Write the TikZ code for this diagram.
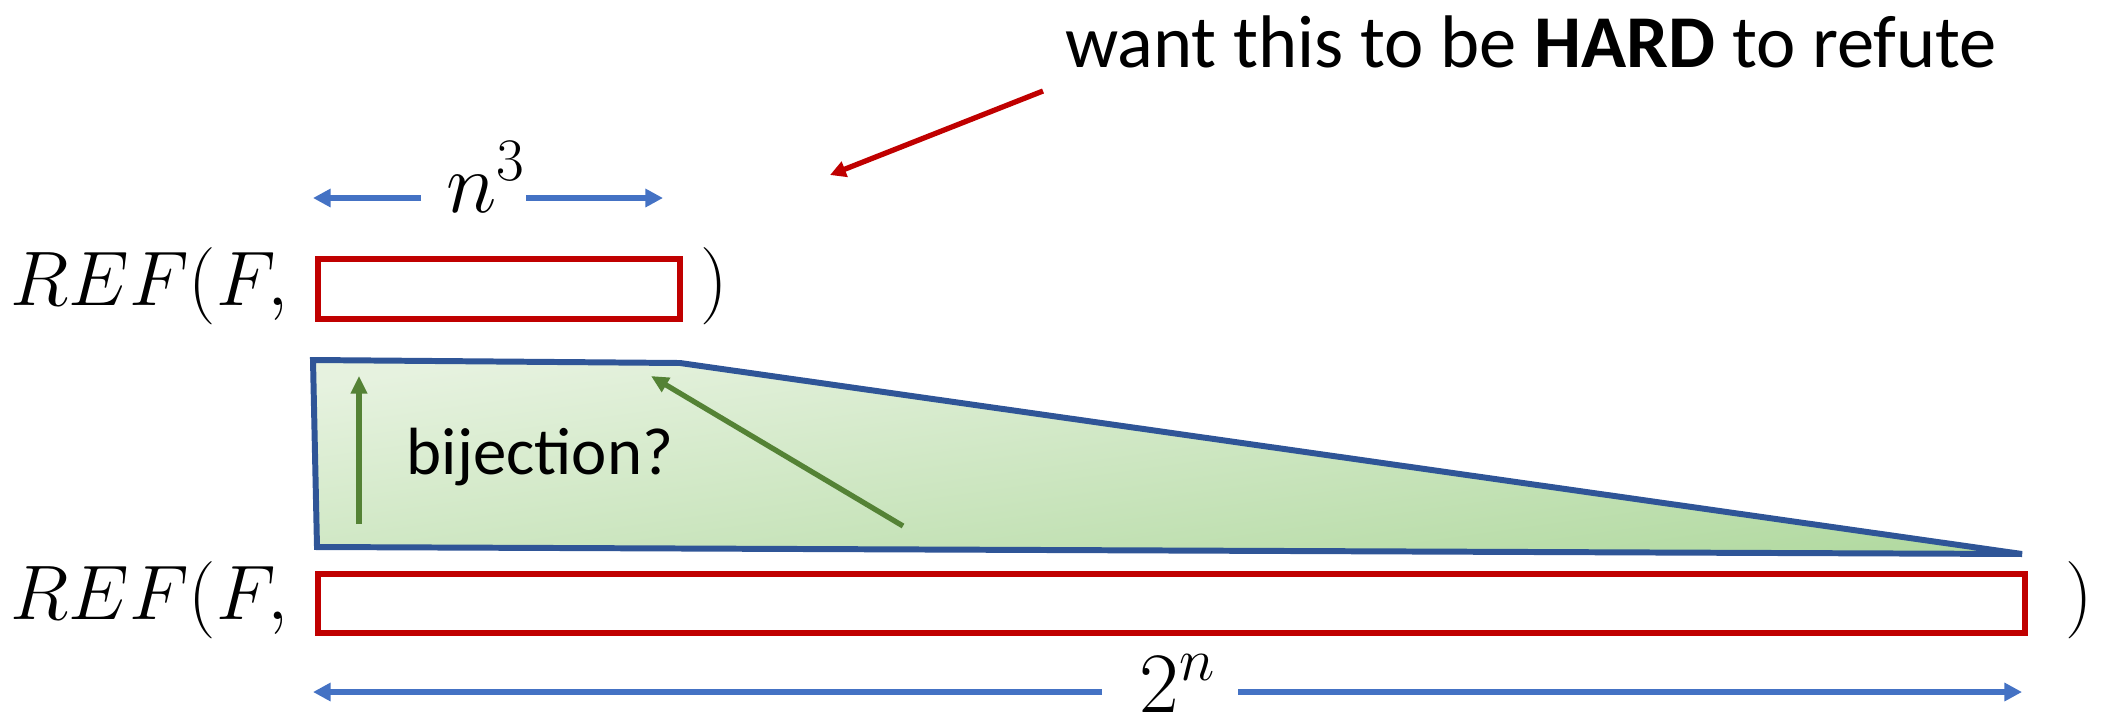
\RequirePackage{fix-cm}
\documentclass[tikz,border=0pt]{standalone}
\usepackage{fontspec}
\setmainfont{Carlito}
\usepackage{amsmath}
\usetikzlibrary{arrows.meta, positioning, calc}
\definecolor{boxred}{HTML}{C00000}
\definecolor{dimblue}{HTML}{4472C4}
\definecolor{edgeblue}{HTML}{2F5597}
\definecolor{mapgreen}{HTML}{548235}
\definecolor{fadelight}{HTML}{E6F2DF}
\definecolor{fadedark}{HTML}{B3DAA2}
\tikzset{
    refbox/.style={draw=boxred, line width=1.6pt, inner sep=0pt},
    dimarrow/.style={draw=dimblue, line width=1.5pt, -{Triangle[length=5pt,width=5pt]}},
    maparrow/.style={draw=mapgreen, line width=1.5pt, -{Triangle[length=5pt,width=4.5pt]}},
    notearrow/.style={draw=boxred, line width=1.5pt, -{Triangle[length=4.5pt,width=4.5pt]}},
    reflabel/.style={font=\fontsize{22}{26}\selectfont, inner sep=0pt},
    dimlabel/.style={font=\fontsize{24.5}{28}\selectfont, inner sep=0pt},
    notetext/.style={font=\fontsize{21.2}{25}\selectfont, inner sep=0pt},
}

\begin{document}
\begin{tikzpicture}[x=1cm, y=1cm]
\useasboundingbox (0,0) rectangle (21.08,-7.24);

% remark at the top
\node[notetext] (note) at (15.31,-0.42) {want this to be \textbf{HARD} to refute};
\coordinate (notefrom) at (10.43,-0.91);
\coordinate (noteto) at (8.30,-1.75);
\draw[notearrow] (notefrom) -- (noteto);

% short row: n^3
\node[reflabel, anchor=east] (reftop) at (2.89,-2.86) {$REF(F,$};
\node[refbox, anchor=north west, minimum width=3.62cm, minimum height=0.60cm] (smallbox) at (3.15,-2.56) {};
\node[reflabel] (closetop) at (7.14,-2.86) {$)$};

\node[dimlabel, anchor=base] (nthree) at (4.86,-2.12) {$n^3$};
\coordinate (nl) at (3.13,-1.98);
\coordinate (nlgap) at (4.21,-1.98);
\coordinate (nrgap) at (5.26,-1.98);
\coordinate (nr) at (6.63,-1.98);
\draw[dimarrow] (nlgap) -- (nl);
\draw[dimarrow] (nrgap) -- (nr);

% mapping wedge
\coordinate (wa) at (3.13,-3.60);
\coordinate (wb) at (6.80,-3.63);
\coordinate (wc) at (20.22,-5.54);
\coordinate (wd) at (3.17,-5.47);
\shadedraw[draw=edgeblue, line width=1.7pt, line join=miter,
    top color=fadelight, bottom color=fadedark, shading angle=8]
    (wa) -- (wb) -- (wc) -- (wd) -- cycle;

\coordinate (upfrom) at (3.59,-5.24);
\coordinate (upto) at (3.59,-3.76);
\coordinate (diagfrom) at (9.03,-5.26);
\coordinate (diagto) at (6.51,-3.76);
\draw[maparrow] (upfrom) -- (upto);
\draw[maparrow] (diagfrom) -- (diagto);
\node[font=\fontsize{19}{23}\selectfont, inner sep=0pt] (bij) at (5.40,-4.57) {bijection?};

% long row: 2^n
\node[reflabel, anchor=east] (refbot) at (2.89,-6.00) {$REF(F,$};
\node[refbox, anchor=north west, minimum width=17.07cm, minimum height=0.59cm] (bigbox) at (3.15,-5.71) {};
\node[reflabel] (closebot) at (20.79,-6.00) {$)$};

\node[dimlabel, anchor=base] (twon) at (11.78,-7.12) {$2^n$};
\coordinate (tl) at (3.13,-6.92);
\coordinate (tlgap) at (11.02,-6.92);
\coordinate (trgap) at (12.38,-6.92);
\coordinate (tr) at (20.22,-6.92);
\draw[dimarrow] (tlgap) -- (tl);
\draw[dimarrow] (trgap) -- (tr);

\end{tikzpicture}
\end{document}
